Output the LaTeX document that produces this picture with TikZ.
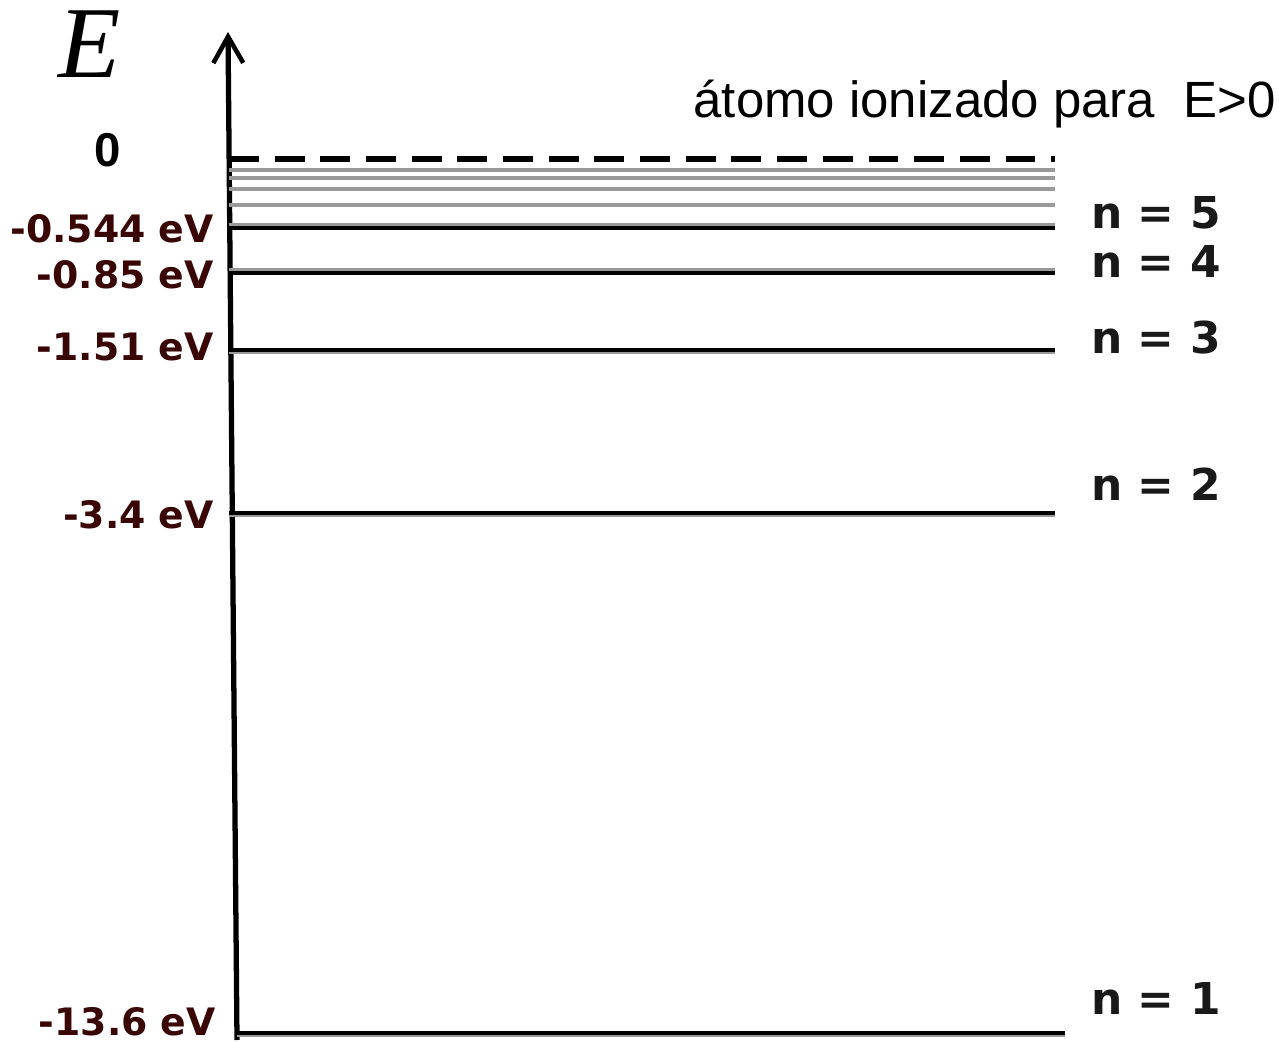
\documentclass[tikz,border=0pt]{standalone}
\usepackage{fontspec}
\setmainfont{Liberation Sans}
\newfontfamily\timesf{Liberation Serif}
\newfontfamily\dvs{DejaVu Sans}
\usetikzlibrary{arrows.meta}
\definecolor{lvl}{HTML}{999999}
\definecolor{ev}{HTML}{3A0505}
\begin{document}
\begin{tikzpicture}[x=0.02cm,y=-0.02cm,
  evlab/.style={anchor=east,inner sep=0pt,text=ev,font=\dvs\fontsize{21.5}{21.5}\selectfont\bfseries},
  nlab/.style={anchor=west,inner sep=0pt,text=black!90,font=\dvs\fontsize{25}{25}\selectfont\bfseries},
  fine/.style={draw=lvl,line width=2.3pt},
  strong/.style={draw=black,line width=2.3pt},
  thin/.style={draw=black,line width=1.8pt}]
\useasboundingbox (0,0) rectangle (1279,1043);
% axis
\coordinate (abot) at (237,1040);
\coordinate (atop) at (228,32);
\draw[line width=3pt,-{Straight Barb[length=15pt,width=17pt,line width=2.6pt]}] (abot) -- (atop);
% ionization level
\draw[line width=3pt,dash pattern=on 17pt off 9pt] (229,159) -- (1055,159);
% continuum-like levels
\foreach \yy in {170,178,189,205} \draw[fine] (229,\yy) -- (1055,\yy);
% named levels
\draw[fine] (229,225) -- (1055,225);
\draw[strong] (229,228) -- (1055,228);
\draw[fine] (229,270) -- (1055,270);
\draw[strong] (229,273) -- (1055,273);
\draw[thin] (229,350) -- (1055,350);
\draw[fine,line width=1.2pt] (229,353) -- (1055,353);
\draw[thin] (229,513) -- (1055,513);
\draw[fine,line width=1.2pt] (229,516) -- (1055,516);
\draw[strong] (237,1033) -- (1065,1033);
\draw[fine,line width=1.2pt] (237,1036) -- (1065,1036);
% labels
\node[inner sep=0pt,font=\timesf\itshape\fontsize{58}{58}\selectfont] (E) at (90,44) {E};
\node[inner sep=0pt,font=\fontsize{27}{27}\selectfont\bfseries] (zero) at (108,150) {0};
\node[inner sep=0pt,anchor=east,font=\fontsize{29}{29}\selectfont] (ion) at (1276,104) {átomo ionizado para\ \ E>0};
\node[evlab] (l5) at (214,229) {-0.544 eV};
\node[evlab] (l4) at (214,275) {-0.85 eV};
\node[evlab] (l3) at (214,347) {-1.51 eV};
\node[evlab] (l2) at (214,515) {-3.4 eV};
\node[evlab] (l1) at (216,1022) {-13.6 eV};
\node[nlab] (n5) at (1091,213) {n = 5};
\node[nlab] (n4) at (1091,261) {n = 4};
\node[nlab] (n3) at (1091,338) {n = 3};
\node[nlab] (n2) at (1091,484) {n = 2};
\node[nlab] (n1) at (1091,998) {n = 1};
\end{tikzpicture}
\end{document}
